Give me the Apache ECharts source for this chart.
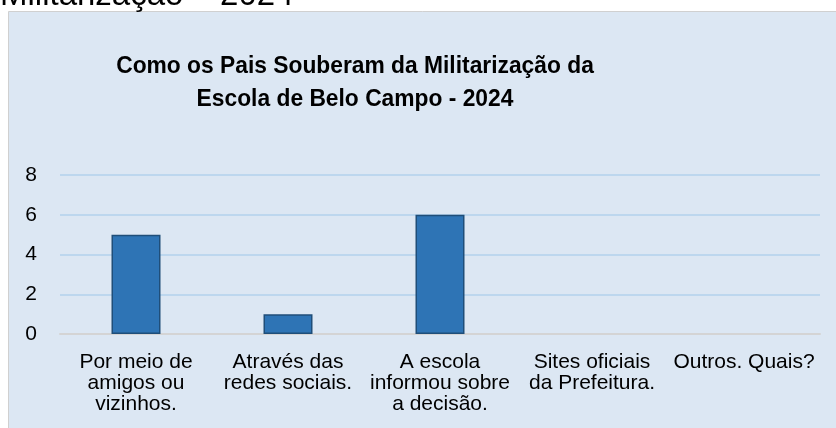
<!DOCTYPE html>
<html>
<head>
<meta charset="utf-8">
<script src="https://cdn.jsdelivr.net/npm/echarts@6/dist/echarts.min.js"></script>
<style>
html, body { margin: 0; padding: 0; background: #fff; }
#main { width: 836px; height: 428px; }
</style>
</head>
<body>
<div id="main"></div>
<script>
// dados do gráfico
var categorias = [
  'Por meio de\namigos ou\nvizinhos.',
  'Através das\nredes sociais.',
  'A escola\ninformou sobre\na decisão.',
  'Sites oficiais\nda Prefeitura.',
  'Outros. Quais?'
];
var valores = [5, 1, 6, 0, 0];
var tituloLinhas = ['Como os Pais Souberam da Militarização da', 'Escola de Belo Campo - 2024'];
var textoCortado = 'Militarização – 2024';

var myChart = echarts.init(document.getElementById('main'));
var option = {
  backgroundColor: '#ffffff',
  animation: false,
  graphic: [
    {
      type: 'rect',
      shape: { x: 8.5, y: 11.5, width: 840, height: 440 },
      style: { fill: '#dce7f3', stroke: '#d0d0d0', lineWidth: 1 },
      z: -10
    },
    {
      type: 'text',
      x: 0, y: -4,
      style: {
        text: textoCortado,
        font: '33px "Liberation Sans", Arial, sans-serif',
        fill: '#000',
        verticalAlign: 'middle'
      }
    },
    {
      type: 'text',
      x: 355, y: 50,
      scaleX: 0.95,
      style: {
        text: tituloLinhas.join('\n'),
        font: 'bold 24px "Liberation Sans", Arial, sans-serif',
        fill: '#000',
        align: 'center',
        lineHeight: 33
      }
    }
  ],
  grid: { left: 60, right: 16, top: 175, bottom: 94 },
  xAxis: {
    type: 'category',
    data: categorias,
    axisLine: { lineStyle: { color: '#d4d4d4', width: 2 } },
    axisTick: { show: false },
    axisLabel: {
      interval: 0,
      color: '#000',
      fontFamily: '"Liberation Sans", Arial, sans-serif',
      fontSize: 21,
      lineHeight: 21,
      margin: 18
    }
  },
  yAxis: {
    type: 'value',
    min: 0, max: 8, interval: 2,
    axisLine: { show: false },
    axisTick: { show: false },
    splitLine: { lineStyle: { color: '#bdd7ee', width: 2 } },
    axisLabel: {
      color: '#000',
      fontFamily: '"Liberation Sans", Arial, sans-serif',
      fontSize: 21,
      margin: 23
    }
  },
  series: [{
    type: 'bar',
    // barras de valor zero não mostram contorno
    data: valores.map(function (v) {
      return v === 0 ? { value: v, itemStyle: { borderWidth: 0 } } : v;
    }),
    barWidth: 49,
    itemStyle: { color: '#2e74b5', borderColor: '#1f4e79', borderWidth: 1.5 }
  }]
};
myChart.setOption(option);
</script>
</body>
</html>
